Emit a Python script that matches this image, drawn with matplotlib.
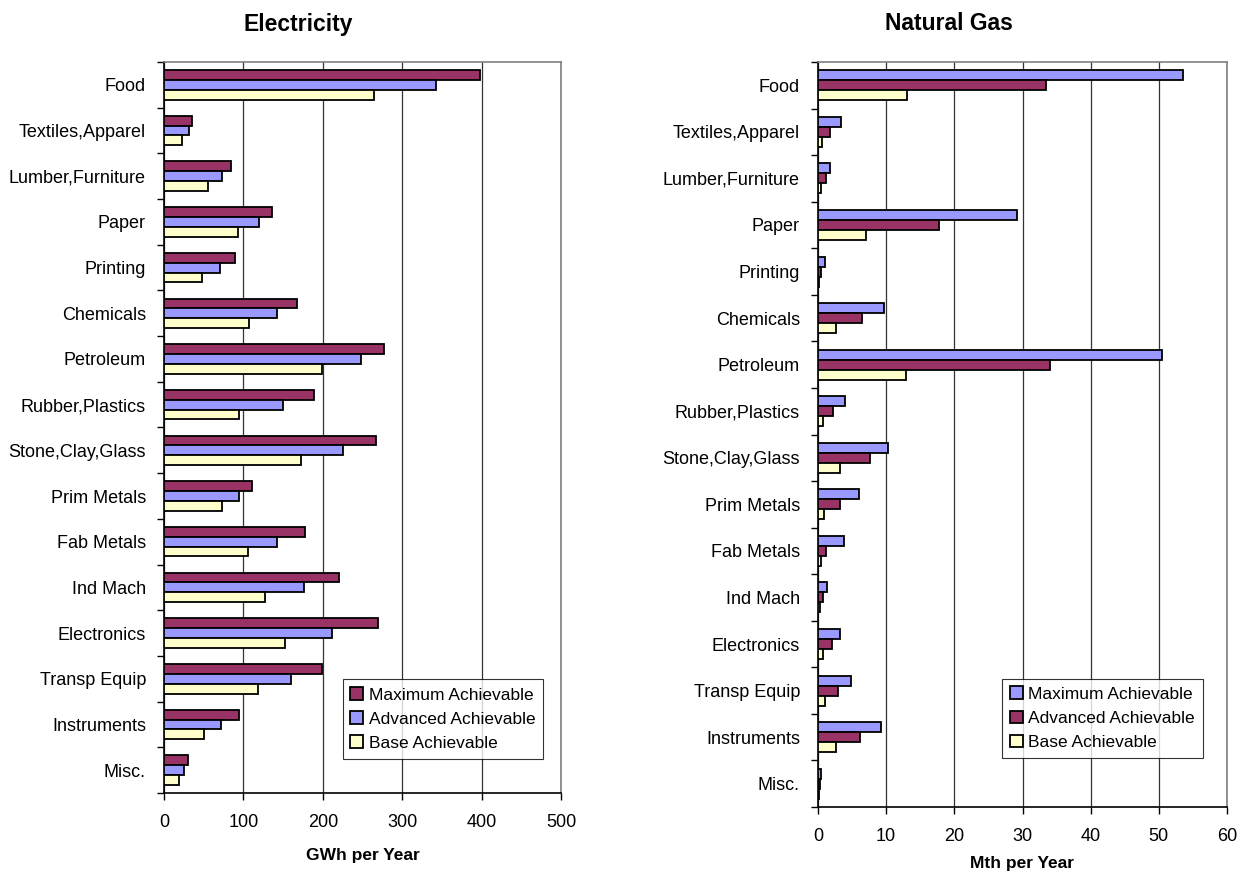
import matplotlib.pyplot as plt
import numpy as np

plt.rcParams['font.family'] = ['Liberation Sans', 'DejaVu Sans']

# industry sectors, top to bottom
sectors = ['Food', 'Textiles,Apparel', 'Lumber,Furniture', 'Paper', 'Printing',
           'Chemicals', 'Petroleum', 'Rubber,Plastics', 'Stone,Clay,Glass',
           'Prim Metals', 'Fab Metals', 'Ind Mach', 'Electronics', 'Transp Equip',
           'Instruments', 'Misc.']

# electricity savings, GWh per year
elec_max = [398, 35, 85, 136, 89, 168, 277, 189, 267, 111, 177, 221, 269, 199, 95, 30]
elec_adv = [343, 31, 73, 120, 70, 142, 248, 150, 226, 95, 142, 176, 211, 160, 72, 25]
elec_base = [265, 23, 55, 93, 48, 107, 199, 95, 173, 73, 106, 127, 152, 119, 51, 19]

# natural gas savings, Mth per year
gas_max = [53.5, 3.4, 1.8, 29.2, 1.0, 9.7, 50.4, 3.9, 10.2, 6.0, 3.8, 1.3, 3.3, 4.8, 9.3, 0.45]
gas_adv = [33.5, 1.8, 1.2, 17.8, 0.5, 6.4, 34.0, 2.2, 7.7, 3.2, 1.2, 0.7, 2.0, 2.9, 6.2, 0.3]
gas_base = [13.1, 0.6, 0.4, 7.0, 0.15, 2.7, 12.9, 0.8, 3.2, 0.9, 0.4, 0.3, 0.8, 1.0, 2.6, 0.1]

series_names = ['Maximum Achievable', 'Advanced Achievable', 'Base Achievable']

maroon = '#993366'
blue = '#9999FF'
cream = '#FFFFCC'

fig = plt.figure(figsize=(12.44, 8.72), dpi=100)
W, H = 1244, 872

def make_axes(px_left, px_right, px_top, px_bottom):
    return fig.add_axes([px_left / W, 1 - px_bottom / H,
                         (px_right - px_left) / W, (px_bottom - px_top) / H])

def draw_panel(ax, data, colors, xmax, step, xlabel, tick_pad, label_pad, leg_anchor):
    y = np.arange(len(sectors))
    h = 0.215
    offsets = [-h, 0, h]
    for vals, col, off, name in zip(data, colors, offsets, series_names):
        ax.barh(y + off, vals, height=h, color=col, edgecolor='black',
                linewidth=1.3, label=name, zorder=3)
    ax.set_ylim(len(sectors) - 0.5, -0.5)
    ax.set_xlim(0, xmax)
    ax.set_xticks(np.arange(0, xmax + step / 2, step))
    ax.set_yticks(y)
    ax.set_yticklabels(sectors, fontsize=13)
    ax.set_yticks(np.arange(-0.5, len(sectors)), minor=True)
    ax.tick_params(axis='y', which='major', length=0, pad=13)
    ax.tick_params(axis='y', which='minor', length=5, direction='out', width=1)
    ax.tick_params(axis='x', length=5, direction='out', width=1, labelsize=13, pad=tick_pad)
    ax.grid(axis='x', color='#333333', linewidth=0.9, zorder=0)
    ax.set_axisbelow(True)
    for side in ['top', 'right']:
        ax.spines[side].set_color('#808080')
        ax.spines[side].set_linewidth(1.2)
    ax.spines['left'].set_linewidth(1.2)
    ax.spines['bottom'].set_linewidth(1.2)
    ax.set_xlabel(xlabel, fontsize=12.5, fontweight='bold', labelpad=label_pad)
    leg = ax.legend(loc='lower right', bbox_to_anchor=leg_anchor, fontsize=12.5,
                    frameon=True, fancybox=False, handlelength=0.75, handleheight=0.75,
                    handletextpad=0.3, borderpad=0.45, labelspacing=0.5, borderaxespad=0)
    leg.get_frame().set_edgecolor('black')
    leg.get_frame().set_linewidth(0.8)
    for patch in leg.get_patches():
        patch.set_linewidth(1.3)

ax1 = make_axes(164, 561, 62, 793)
draw_panel(ax1, [elec_max, elec_adv, elec_base], [maroon, blue, cream],
           500, 100, 'GWh per Year', 10, 12, (0.955, 0.047))

ax2 = make_axes(818, 1227, 62, 807)
draw_panel(ax2, [gas_max, gas_adv, gas_base], [blue, maroon, cream],
           60, 10, 'Mth per Year', 10, 8, (0.941, 0.066))

# chart titles sit over the whole chart block, not just the plot area
fig.text(298 / W, 1 - 24 / H, 'Electricity', fontsize=16.5, fontweight='bold',
         ha='center', va='center')
fig.text(949 / W, 1 - 24 / H, 'Natural Gas', fontsize=16.5, fontweight='bold',
         ha='center', va='center')

fig.savefig('out.png', dpi=100)
